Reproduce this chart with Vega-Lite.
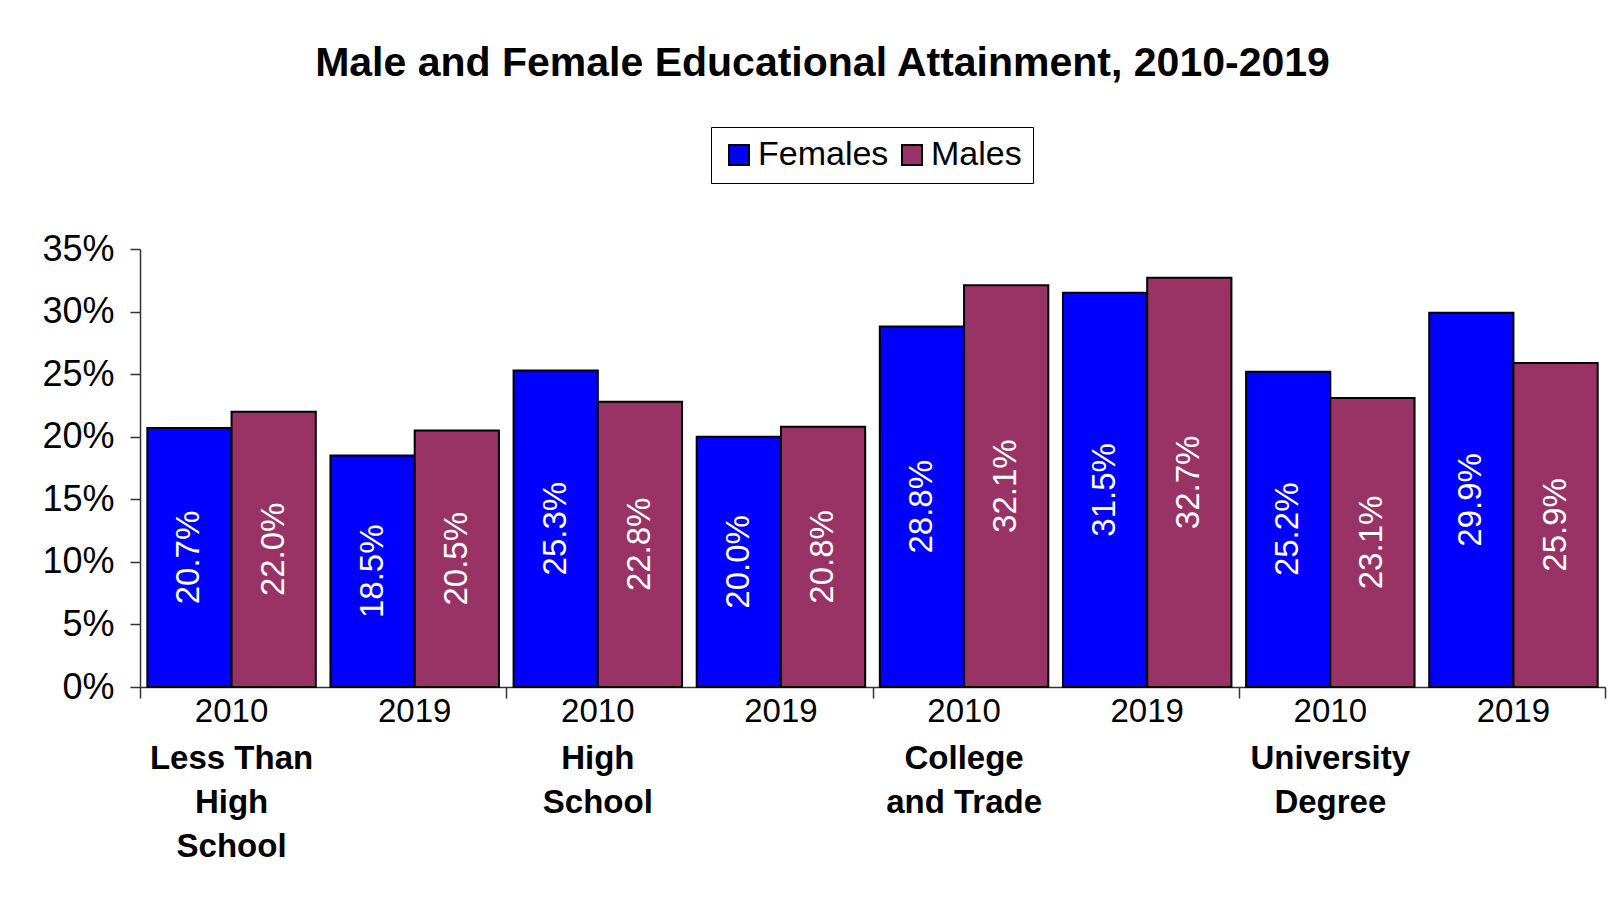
{
  "$schema": "https://vega.github.io/schema/vega-lite/v6.json",
  "width": 1465,
  "height": 438,
  "autosize": {"type": "none"},
  "padding": {"left": 140, "top": 249, "right": 12, "bottom": 212},
  "background": "white",
  "title": {
    "text": "Male and Female Educational Attainment, 2010-2019",
    "font": "Liberation Sans",
    "fontSize": 41,
    "fontWeight": "bold",
    "color": "black",
    "anchor": "middle",
    "frame": "group",
    "dx": -50,
    "offset": 42
  },
  "data": {
    "values": [
      {"category": "Less Than High School", "year": "2010", "group": "Less Than High School 2010", "sex": "Females", "value": 0.207},
      {"category": "Less Than High School", "year": "2010", "group": "Less Than High School 2010", "sex": "Males", "value": 0.220},
      {"category": "Less Than High School", "year": "2019", "group": "Less Than High School 2019", "sex": "Females", "value": 0.185},
      {"category": "Less Than High School", "year": "2019", "group": "Less Than High School 2019", "sex": "Males", "value": 0.205},
      {"category": "High School", "year": "2010", "group": "High School 2010", "sex": "Females", "value": 0.253},
      {"category": "High School", "year": "2010", "group": "High School 2010", "sex": "Males", "value": 0.228},
      {"category": "High School", "year": "2019", "group": "High School 2019", "sex": "Females", "value": 0.200},
      {"category": "High School", "year": "2019", "group": "High School 2019", "sex": "Males", "value": 0.208},
      {"category": "College and Trade", "year": "2010", "group": "College and Trade 2010", "sex": "Females", "value": 0.288},
      {"category": "College and Trade", "year": "2010", "group": "College and Trade 2010", "sex": "Males", "value": 0.321},
      {"category": "College and Trade", "year": "2019", "group": "College and Trade 2019", "sex": "Females", "value": 0.315},
      {"category": "College and Trade", "year": "2019", "group": "College and Trade 2019", "sex": "Males", "value": 0.327},
      {"category": "University Degree", "year": "2010", "group": "University Degree 2010", "sex": "Females", "value": 0.252},
      {"category": "University Degree", "year": "2010", "group": "University Degree 2010", "sex": "Males", "value": 0.231},
      {"category": "University Degree", "year": "2019", "group": "University Degree 2019", "sex": "Females", "value": 0.299},
      {"category": "University Degree", "year": "2019", "group": "University Degree 2019", "sex": "Males", "value": 0.259}
    ]
  },
  "layer": [
    {
      "mark": {"type": "bar", "stroke": "black", "strokeWidth": 2},
      "encoding": {
        "x": {
          "field": "group", "type": "nominal", "sort": null,
          "scale": {"paddingInner": 0.08, "paddingOuter": 0.04},
          "axis": {
            "title": null, "orient": "bottom",
            "labelExpr": "slice(datum.label, -4)",
            "labelAngle": 0, "labelFontSize": 33, "labelColor": "black",
            "labelPadding": 8, "ticks": false, "domain": true,
            "domainColor": "#333", "domainWidth": 1.5, "labelOverlap": false
          }
        },
        "xOffset": {"field": "sex", "type": "nominal", "sort": ["Females", "Males"]},
        "y": {
          "field": "value", "type": "quantitative",
          "scale": {"domain": [0, 0.35], "nice": false},
          "axis": {
            "title": null,
            "values": [0, 0.05, 0.1, 0.15, 0.2, 0.25, 0.3, 0.35],
            "format": ".0%", "labelFontSize": 36, "labelColor": "black",
            "tickSize": 10, "labelPadding": 16, "grid": false,
            "domainColor": "#333", "domainWidth": 1.5, "tickColor": "#333", "tickWidth": 1.5
          }
        },
        "color": {
          "field": "sex", "type": "nominal",
          "scale": {"domain": ["Females", "Males"], "range": ["#0000FF", "#993366"]},
          "legend": {
            "orient": "none", "legendX": 571, "legendY": -122,
            "direction": "horizontal", "title": null,
            "symbolType": "square", "symbolSize": 400,
            "symbolStrokeColor": "black", "symbolStrokeWidth": 2,
            "labelFontSize": 34, "labelColor": "black",
            "strokeColor": "black", "fillColor": "white",
            "padding": 11, "columnPadding": 6, "labelOffset": 2
          }
        }
      }
    },
    {
      "mark": {"type": "text", "angle": 270, "color": "white", "fontSize": 33, "align": "center", "baseline": "middle"},
      "encoding": {
        "x": {"field": "group", "type": "nominal", "sort": null, "scale": {"paddingInner": 0.08, "paddingOuter": 0.04}, "axis": null},
        "xOffset": {"field": "sex", "type": "nominal", "sort": ["Females", "Males"]},
        "y": {"field": "value", "type": "quantitative", "scale": {"domain": [0, 0.7], "nice": false}, "axis": null},
        "text": {"field": "value", "type": "quantitative", "format": ".1%"}
      }
    },
    {
      "mark": {"type": "bar", "opacity": 0},
      "encoding": {
        "x": {
          "field": "group", "type": "nominal", "sort": null,
          "scale": {"paddingInner": 0.08, "paddingOuter": 0.04},
          "axis": {
            "title": null, "orient": "bottom", "domain": false, "ticks": false,
            "labelAngle": 0, "labelFontSize": 33, "labelFontWeight": "bold",
            "labelColor": "black", "labelPadding": 55, "labelLineHeight": 44,
            "labelBaseline": "top", "labelOverlap": false,
            "labelExpr": "datum.value == 'Less Than High School 2010' ? ['Less Than', 'High', 'School'] : datum.value == 'High School 2010' ? ['High', 'School'] : datum.value == 'College and Trade 2010' ? ['College', 'and Trade'] : datum.value == 'University Degree 2010' ? ['University', 'Degree'] : ''"
          }
        }
      }
    },
    {
      "mark": {"type": "bar", "opacity": 0},
      "encoding": {
        "x": {
          "field": "category", "type": "nominal", "sort": null,
          "scale": {"type": "band", "paddingInner": 0, "paddingOuter": 0},
          "axis": {
            "title": null, "orient": "bottom", "domain": false,
            "ticks": true, "tickBand": "extent", "tickSize": 11,
            "tickColor": "#333", "tickWidth": 1.5, "labels": false
          }
        }
      }
    }
  ],
  "resolve": {"scale": {"x": "independent", "y": "independent"}},
  "config": {"view": {"stroke": null}, "font": "Liberation Sans"}
}
